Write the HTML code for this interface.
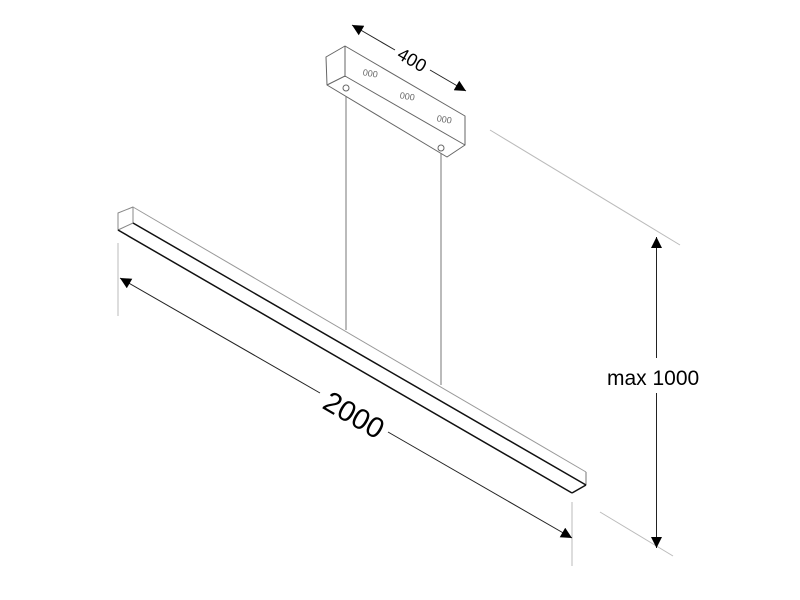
<!DOCTYPE html>
<html><head><meta charset="utf-8"><style>
html,body{margin:0;padding:0;background:#fff;width:800px;height:600px;overflow:hidden}
</style></head><body>
<svg width="800" height="600" viewBox="0 0 800 600" xmlns="http://www.w3.org/2000/svg">
<defs>
<marker id="ar2" viewBox="0 0 10 10" refX="10" refY="5" markerWidth="14" markerHeight="11" orient="auto-start-reverse" markerUnits="userSpaceOnUse">
<path d="M0,0 L10,5 L0,10 z" fill="#000"/></marker>
</defs>
<g stroke="#bbb" stroke-width="1" fill="none">
<line x1="490" y1="130" x2="680" y2="245"/>
<line x1="600" y1="512" x2="673" y2="556"/>
<line x1="118" y1="243" x2="118" y2="316"/>
<line x1="572" y1="502" x2="572" y2="566"/>
</g>
<g stroke="#777" stroke-width="1">
<line x1="346" y1="91" x2="346" y2="330"/>
<line x1="441" y1="152" x2="441" y2="385"/>
</g>
<g stroke="#666" stroke-width="1" fill="#fff" stroke-linejoin="round">
<path d="M326,57 L345,46 L465,116 L465,145 L447,157 L327,85 Z"/>
<path d="M345,46 L345,77 M327,85 L345,76 L465,145" fill="none"/>
<circle cx="346" cy="88" r="3"/>
<circle cx="441" cy="148" r="3"/>
</g>
<g font-family="Liberation Sans,sans-serif" font-size="9" fill="#666">
<text x="363" y="76" transform="rotate(10 368 72)">000</text>
<text x="400" y="99" transform="rotate(10 405 95)">000</text>
<text x="437" y="122" transform="rotate(10 442 118)">000</text>
</g>
<g fill="none" stroke-linejoin="round">
<path d="M118,213 L133,207 L133,223 L118,230 Z" stroke="#888" stroke-width="1"/>
<line x1="133" y1="207" x2="586" y2="472" stroke="#999" stroke-width="1"/>
<line x1="586" y1="472" x2="586" y2="485" stroke="#777" stroke-width="1"/>
<line x1="133" y1="223" x2="586" y2="485" stroke="#111" stroke-width="1.5"/>
<line x1="118" y1="230" x2="572" y2="493" stroke="#111" stroke-width="1.5"/>
<line x1="572" y1="493" x2="586" y2="485" stroke="#111" stroke-width="1.5"/>
</g>
<g stroke="#222" stroke-width="1" fill="none">
<line x1="352" y1="25" x2="395" y2="50" marker-start="url(#ar2)"/>
<line x1="430" y1="70" x2="466" y2="91" marker-end="url(#ar2)"/>
<line x1="120" y1="278" x2="320" y2="393" marker-start="url(#ar2)"/>
<line x1="388" y1="432" x2="572" y2="538" marker-end="url(#ar2)"/>
<line x1="656.5" y1="237" x2="656.5" y2="358" marker-start="url(#ar2)"/>
<line x1="656.5" y1="393" x2="656.5" y2="548" marker-end="url(#ar2)"/>
</g>
<g font-family="Liberation Sans,sans-serif" fill="#000">
<text x="412" y="66" font-size="18" text-anchor="middle" transform="rotate(30 412 60)">400</text>
<text x="354" y="425" font-size="29" text-anchor="middle" transform="rotate(30 354 415)">2000</text>
<text x="607" y="385" font-size="21">max 1000</text>
</g>
</svg>
</body></html>
